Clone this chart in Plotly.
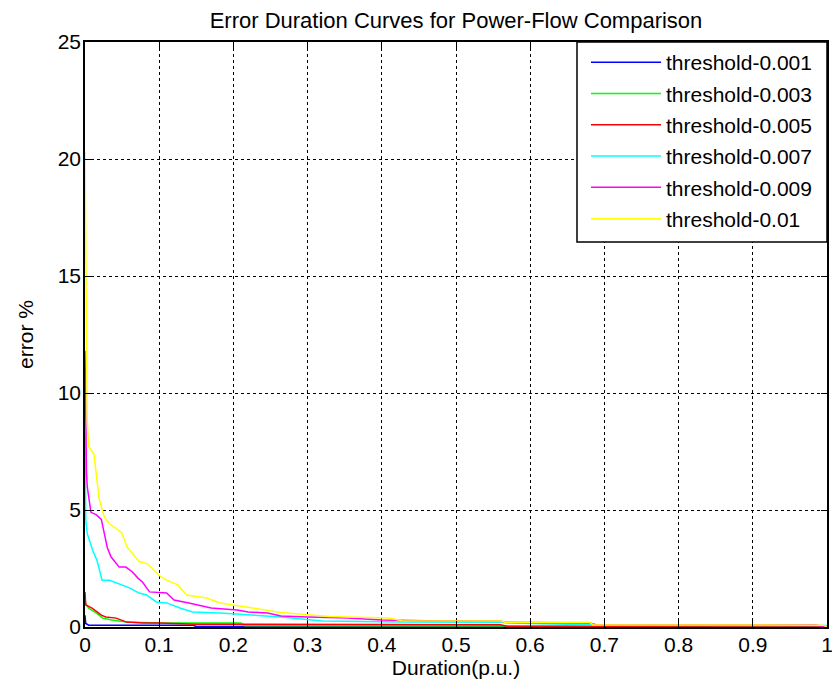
import plotly.graph_objects as go

# ---- data ----
labels = ["threshold-0.001", "threshold-0.003", "threshold-0.005",
          "threshold-0.007", "threshold-0.009", "threshold-0.01"]
colors = ["#0000FF", "#00FF00", "#FF0000", "#00FFFF", "#FF00FF", "#FFFF00"]

x_001 = [0, 0.001, 0.005, 0.145, 0.15, 1.0]
y_001 = [0.5, 0.15, 0.08, 0.08, 0.02, 0.02]

x_003 = [0, 0.001, 0.005, 0.015, 0.024, 0.036, 0.056, 0.083, 0.1, 0.21, 0.215, 1.0]
y_003 = [1.15, 1.0, 0.8, 0.6, 0.38, 0.3, 0.21, 0.2, 0.17, 0.17, 0.05, 0.03]

x_005 = [0, 0.001, 0.01, 0.016, 0.022, 0.028, 0.042, 0.056, 0.078, 0.1, 0.15, 0.56, 0.57, 0.995, 1.0]
y_005 = [1.5, 0.94, 0.8, 0.64, 0.51, 0.43, 0.38, 0.21, 0.17, 0.17, 0.12, 0.1, 0.02, 0.02, 0.0]

x_007 = [0, 0.0005, 0.001, 0.003, 0.01, 0.016, 0.023, 0.033, 0.046, 0.06, 0.073, 0.083, 0.096,
         0.11, 0.128, 0.145, 0.182, 0.219, 0.245, 0.264, 0.32, 0.43, 0.56, 0.57, 0.68, 0.69, 1.0]
y_007 = [8.3, 6.3, 4.6, 4.0, 3.3, 2.86, 2.0, 2.0, 1.84, 1.67, 1.45, 1.37, 1.07,
         1.03, 0.81, 0.64, 0.6, 0.51, 0.47, 0.43, 0.26, 0.21, 0.2, 0.17, 0.1, 0.08, 0.06]

x_009 = [0, 0.001, 0.002, 0.003, 0.008, 0.015, 0.022, 0.026, 0.03, 0.035, 0.046, 0.055, 0.064,
         0.071, 0.078, 0.083, 0.087, 0.11, 0.12, 0.14, 0.17, 0.205, 0.22, 0.246, 0.264, 0.30,
         0.354, 0.40, 0.46, 0.56, 0.565, 0.68, 0.69, 0.985, 0.995, 1.0]
y_009 = [11.8, 8.5, 6.6, 6.0, 4.9, 4.8, 4.6, 4.0, 3.4, 3.0, 2.56, 2.56, 2.35,
         2.1, 1.9, 1.67, 1.5, 1.45, 1.15, 1.03, 0.81, 0.73, 0.64, 0.6, 0.47, 0.43,
         0.38, 0.3, 0.27, 0.26, 0.2, 0.17, 0.09, 0.09, 0.04, 0.0]

x_01 = [0, 0.001, 0.002, 0.003, 0.005, 0.012, 0.019, 0.026, 0.033, 0.049, 0.057, 0.073, 0.084,
        0.09, 0.1, 0.11, 0.125, 0.137, 0.164, 0.182, 0.209, 0.246, 0.264, 0.30, 0.33, 0.354,
        0.41, 0.427, 0.56, 0.565, 0.68, 0.685, 0.995, 1.0]
y_01 = [20.3, 15.0, 10.5, 8.8, 7.7, 7.4, 5.5, 4.7, 4.4, 4.05, 3.4, 2.8, 2.7,
        2.5, 2.2, 2.0, 1.8, 1.37, 1.24, 1.03, 0.9, 0.73, 0.62, 0.52, 0.45, 0.43,
        0.38, 0.27, 0.26, 0.2, 0.2, 0.09, 0.08, 0.0]

xs = [x_001, x_003, x_005, x_007, x_009, x_01]
ys = [y_001, y_003, y_005, y_007, y_009, y_01]

x_ticks = [0, 0.1, 0.2, 0.3, 0.4, 0.5, 0.6, 0.7, 0.8, 0.9, 1]
x_ticktext = ["0", "0.1", "0.2", "0.3", "0.4", "0.5", "0.6", "0.7", "0.8", "0.9", "1"]
y_ticks = [0, 5, 10, 15, 20, 25]

FONT = "Liberation Sans, Arial, sans-serif"

# page body has an 8px margin; figure is sized/offset to compensate
W, H = 832, 681
ML, MR, MT, MB = 77, 13, 34, 62
PW = W - ML - MR
PH = H - MT - MB

fig = go.Figure()
for i in range(len(labels)):
    fig.add_trace(go.Scatter(
        x=xs[i], y=ys[i], mode="lines", name=labels[i],
        line=dict(color=colors[i], width=1.5),
        legendgroup="g%d" % i,
    ))

axis_common = dict(
    showline=True, mirror="ticks", linecolor="black", linewidth=1.5,
    ticks="inside", ticklen=6, tickcolor="black", tickwidth=1,
    showgrid=True, gridcolor="black", gridwidth=1, griddash="dot",
    zeroline=False, automargin=False,
    tickfont=dict(family=FONT, size=21, color="black"),
)

# legend box in page pixels (reference): x 577..828, y 43..242
def px_x(p):
    return (p - 8 - ML) / PW

def px_y(p):
    return 1 - (p - 8 - MT) / PH

fig.update_layout(
    width=W, height=H,
    paper_bgcolor="white", plot_bgcolor="white",
    margin=dict(l=ML, r=MR, t=MT, b=MB),
    font=dict(family=FONT, size=21, color="black"),
    title=dict(text="Error Duration Curves for Power-Flow Comparison",
               x=0.5, xref="paper", xanchor="center",
               y=1 - 12 / H, yanchor="middle",
               font=dict(family=FONT, size=22, color="black")),
    xaxis=dict(range=[0, 1], tickvals=x_ticks, ticktext=x_ticktext,
               title=dict(text="Duration(p.u.)", standoff=0,
                          font=dict(family=FONT, size=21)),
               ticklabelstandoff=-2, **axis_common),
    yaxis=dict(range=[0, 25], tickvals=y_ticks,
               title=dict(text="error %", standoff=18,
                          font=dict(family=FONT, size=21)),
               ticklabelstandoff=-2, **axis_common),
    legend=dict(x=px_x(586), xanchor="left", y=1, yanchor="top",
                bgcolor="rgba(0,0,0,0)", borderwidth=0,
                font=dict(family=FONT, size=21, color="black"),
                itemwidth=70, tracegroupgap=1),
    shapes=[dict(type="rect", xref="paper", yref="paper",
                 x0=px_x(577), x1=1.0, y0=px_y(242), y1=1.0,
                 line=dict(color="black", width=1.5), fillcolor="white",
                 layer="above")],
    showlegend=True,
)

fig.write_html("out.html")
